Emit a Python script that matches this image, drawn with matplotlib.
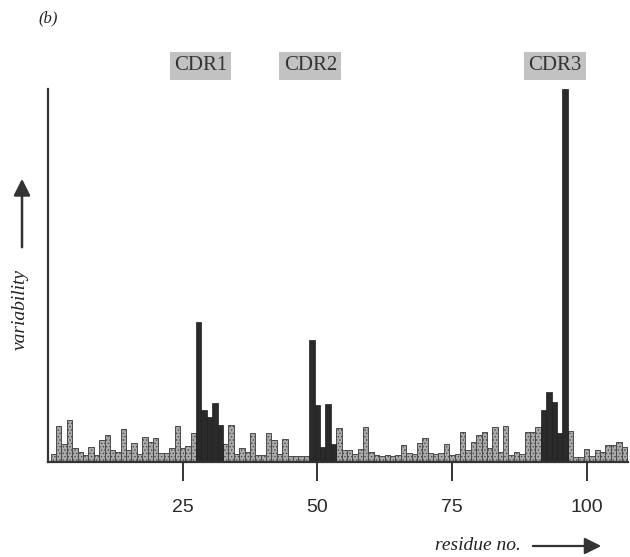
import matplotlib
matplotlib.use("Agg")
import matplotlib.pyplot as plt
import matplotlib.transforms as mtransforms
import matplotlib.patches as mpatches

# residue numbers and variability (arbitrary units)
residues = list(range(1, 108))
variability = [
    8, 36, 18, 42, 14, 10, 7, 15, 7, 22,      # 1-10
    27, 12, 10, 33, 12, 19, 8, 25, 20, 24,    # 11-20
    9, 9, 14, 36, 14, 16, 29, 140, 52, 45,    # 21-30
    59, 37, 18, 37, 8, 14, 10, 29, 7, 7,      # 31-40
    29, 22, 8, 23, 6, 6, 6, 6, 122, 57,       # 41-50
    15, 58, 18, 34, 12, 12, 8, 13, 35, 10,    # 51-60
    7, 6, 7, 6, 7, 17, 9, 8, 19, 24,          # 61-70
    9, 8, 9, 18, 7, 8, 30, 12, 20, 27,        # 71-80
    30, 14, 35, 10, 36, 7, 10, 8, 30, 30,     # 81-90
    35, 52, 70, 60, 29, 374, 31, 5, 5, 13,    # 91-100
    6, 12, 10, 17, 17, 20, 15,                # 101-107
]
cdr_residues = [28, 29, 30, 31, 32, 49, 50, 51, 52, 53, 92, 93, 94, 95, 96]
cdr_labels = ["CDR1", "CDR2", "CDR3"]
cdr_label_pos = [28.3, 48.7, 94.2]
xticks = [25, 50, 75, 100]

plt.rcParams['hatch.color'] = '#4e4e4e'
plt.rcParams['hatch.linewidth'] = 0.6

fig = plt.figure(figsize=(6.3, 5.57), dpi=100)
ax = fig.add_axes([48/630, 1-462/557, 580/630, (462-89)/557])

light_x = [r for r in residues if r not in cdr_residues]
light_y = [v for r, v in zip(residues, variability) if r not in cdr_residues]
dark_x = [r for r in residues if r in cdr_residues]
dark_y = [v for r, v in zip(residues, variability) if r in cdr_residues]

ax.bar(light_x, light_y, width=1.0, facecolor='#ababab', edgecolor='#4a4a4a',
       linewidth=0.7, hatch='.....')
ax.bar(dark_x, dark_y, width=1.0, facecolor='#2a2a2a', edgecolor='#1e1e1e',
       linewidth=0.5)

ax.set_xlim(0, 107.7)
ax.set_ylim(0, 374)
for s in ['top', 'right']:
    ax.spines[s].set_visible(False)
for s in ['left', 'bottom']:
    ax.spines[s].set_color('#333333')
    ax.spines[s].set_linewidth(1.6)
ax.set_yticks([])
ax.set_xticks(xticks)
ax.set_xticklabels([str(t) for t in xticks], fontsize=14, color='#2a2a2a',
                   family='Liberation Sans')
ax.tick_params(axis='x', direction='out', length=14, width=1.4, color='#333333', pad=13)

# CDR labels
blend = mtransforms.blended_transform_factory(ax.transData, fig.transFigure)
for lab, xp in zip(cdr_labels, cdr_label_pos):
    ax.text(xp, 1 - 66/557, lab, transform=blend,
            ha='center', va='center', fontsize=15, family='Liberation Serif',
            color='#333333',
            bbox=dict(boxstyle='square,pad=0.2', facecolor='#c2c2c2',
                      edgecolor='none'))

# panel label
fig.text(48/630, 1 - 18/557, "(b)", fontsize=12, style='italic',
         family='Liberation Serif', ha='center', va='center', color='#222222')

# y axis label with arrow
fig.text(20/630, 1 - 310/557, "variability", rotation=90, fontsize=14,
         style='italic', family='Liberation Serif', ha='center', va='center',
         color='#222222')
fig.patches.append(mpatches.FancyArrowPatch(
    (22/630, 1 - 250/557), (22/630, 1 - 176/557), transform=fig.transFigure,
    arrowstyle='-|>,head_length=10,head_width=5', color='#333333', lw=1.8,
    mutation_scale=1))

# x axis label with arrow
fig.text(478/630, 1 - 546/557, "residue no.", fontsize=14, style='italic',
         family='Liberation Serif', ha='center', va='center', color='#222222')
fig.patches.append(mpatches.FancyArrowPatch(
    (530/630, 1 - 546/557), (604/630, 1 - 546/557), transform=fig.transFigure,
    arrowstyle='-|>,head_length=10,head_width=5', color='#333333', lw=1.6,
    mutation_scale=1))

fig.savefig("out.png", dpi=100)
